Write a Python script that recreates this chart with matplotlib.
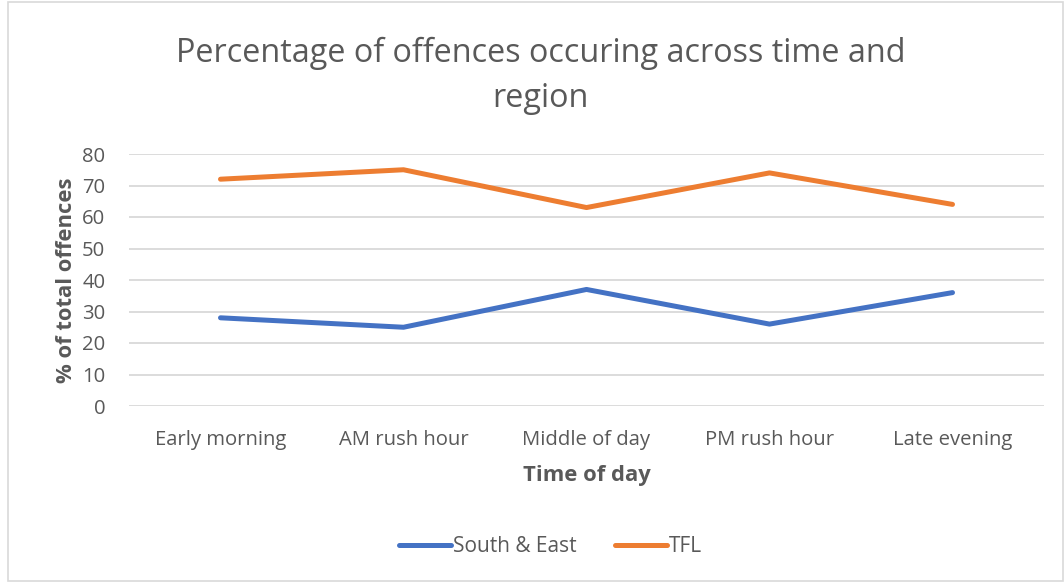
import matplotlib
matplotlib.use("Agg")
import matplotlib.pyplot as plt
from matplotlib.patches import Rectangle

categories = ["Early morning", "AM rush hour", "Middle of day", "PM rush hour", "Late evening"]
south_east = [28, 25, 37, 26, 36]
tfl = [72, 75, 63, 74, 64]
series_names = ["South & East", "TFL"]
yticks = [0, 10, 20, 30, 40, 50, 60, 70, 80]

plt.rcParams['font.family'] = ['Open Sans', 'DejaVu Sans']
txt = '#595959'

fig = plt.figure(figsize=(10.64, 5.83), dpi=100)
fig.patches.append(Rectangle((8/1064, 0.003), 1 - 8/1064 - 0.001, 0.994, transform=fig.transFigure,
                             fill=False, edgecolor='#D9D9D9', linewidth=1.2))
ax = fig.add_axes([129/1064, 1 - 406/583, 915/1064, 252/583])
x = list(range(len(categories)))
ax.plot(x, south_east, color='#4472C4', linewidth=3.6, solid_capstyle='round', label=series_names[0])
ax.plot(x, tfl, color='#ED7D31', linewidth=3.6, solid_capstyle='round', label=series_names[1])
ax.set_xlim(-0.5, len(categories) - 0.5)
ax.set_ylim(0, 80)
ax.set_yticks(yticks)
ax.set_xticks(x)
ax.set_xticklabels(categories)
ax.tick_params(axis='both', length=0, labelsize=14.6, colors=txt)
ax.tick_params(axis='x', pad=17)
ax.tick_params(axis='y', pad=17)
for s in ax.spines.values():
    s.set_visible(False)
ax.grid(axis='y', color='#D9D9D9', linewidth=1.3)
ax.set_axisbelow(True)
ax.set_xlabel("Time of day", fontsize=15.8, fontweight='bold', color=txt, labelpad=11)
ax.set_ylabel("% of total offences", fontsize=15.8, fontweight='bold', color=txt, labelpad=3.5)
fig.text(0.508, 0.870, "Percentage of offences occuring across time and\nregion", ha='center', va='center',
         fontsize=23.3, color=txt, linespacing=1.5)
leg = fig.legend(loc='center', bbox_to_anchor=(0.5174, 0.062), ncol=2, frameon=False, fontsize=15,
                 handlelength=2.5, columnspacing=1.8, handletextpad=0.1)
for t in leg.get_texts():
    t.set_color(txt)
fig.savefig("out.png", dpi=100)
